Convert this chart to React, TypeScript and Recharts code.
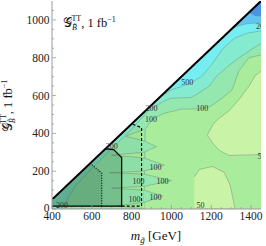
import React from 'react';
import { ComposedChart, Area, Line, Scatter, XAxis, YAxis, Customized } from 'recharts';

type Tri = [number, number, number];
type Pt = [number, number];

// ---- axes ----
const xTicks = [400, 450, 500, 550, 600, 650, 700, 750, 800, 850, 900, 950, 1000, 1050, 1100, 1150, 1200, 1250, 1300, 1350, 1400];
const xMajor = [400, 600, 800, 1000, 1200, 1400];
const yTicks = [0, 50, 100, 150, 200, 250, 300, 350, 400, 450, 500, 550, 600, 650, 700, 750, 800, 850, 900, 950, 1000, 1050];
const yMajor = [0, 200, 400, 600, 800, 1000];

// ---- contour regions: [m_gluino, lower, upper] ----
const regionBase: Tri[] = [[400, 0, 50], [1450, 0, 1100]];
const region100: Tri[] = [
  [400, 0, 50], [862, 0, 512], [868, 420, 518], [900, 471, 550], [960, 505, 610], [1050, 528, 700],
  [1150, 530, 800], [1200, 545, 850], [1260, 590, 910], [1305, 630, 955], [1340, 733, 990],
  [1390, 800, 1040], [1450, 815, 1100],
];
const wedges50: Tri[][] = [
  [[770, 385, 385], [862, 360, 420]],
  [[700, 285, 285], [862, 270, 300]],
  [[690, 192, 192], [862, 185, 200]],
  [[700, 110, 110], [862, 100, 120]],
  [[730, 18, 18], [862, 0, 35]],
];
const fingers100: Tri[][] = [
  [[862, 300, 360], [925, 330, 330]],
  [[862, 200, 270], [965, 232, 232]],
  [[862, 120, 185], [1000, 150, 150]],
  [[862, 35, 100], [955, 68, 68]],
];
const region200: Tri[] = [
  [400, 0, 50], [460, 0, 110], [480, 60, 130], [520, 125, 170], [600, 215, 250], [700, 318, 350],
  [800, 422, 450], [880, 515, 530], [900, 532, 550], [965, 572, 615], [1000, 586, 650],
  [1100, 590, 750], [1140, 615, 790], [1190, 650, 840], [1225, 700, 875], [1290, 760, 940],
  [1340, 800, 990], [1425, 860, 1075], [1450, 874, 1100],
];
const region500: Tri[] = [
  [940, 590, 590], [1000, 630, 650], [1090, 662, 740], [1150, 700, 800], [1200, 760, 850],
  [1260, 850, 910], [1320, 905, 970], [1380, 930, 1030], [1450, 942, 1100],
];
const region1000: Tri[] = [[1305, 955, 955], [1340, 970, 990], [1380, 980, 1030], [1450, 985, 1100]];
const region2000: Tri[] = [[1390, 1040, 1040], [1420, 1022, 1070], [1450, 1020, 1100]];
const lowBottom: Tri[] = [[1115, 0, 170], [1140, 0, 209], [1205, 0, 225], [1265, 0, 194], [1295, 0, 126], [1320, 0, 0]];
const lowRight: Tri[] = [
  [1180, 390, 390], [1210, 345, 450], [1240, 310, 480], [1290, 283, 520], [1340, 285, 580],
  [1390, 286, 650], [1420, 287, 705], [1450, 288, 730],
];

// ---- excluded regions ----
const overlayDashed: Tri[] = [[400, 15, 50], [800, 15, 450], [850, 15, 430]];
const overlaySolid: Tri[] = [[400, 15, 50], [668, 15, 318], [710, 15, 314], [750, 15, 272]];
const overlayDotted: Tri[] = [[400, 15, 50], [592, 15, 242], [650, 15, 190]];
const outlineSolid: Pt[] = [[400, 15], [750, 15], [750, 272], [710, 314], [668, 318]];
const outlineDashed: Pt[] = [[750, 15], [850, 15], [850, 430], [800, 450]];
const outlineDotted: Pt[] = [[650, 15], [650, 190], [592, 242]];
const diagonal: Pt[] = [[400, 50], [1450, 1100]];

// ---- contour labels ----
const contourLabels = [
  { x: 1080, y: 670, t: '500' },
  { x: 900, y: 534, t: '200' },
  { x: 897, y: 471, t: '100' },
  { x: 1155, y: 530, t: '100' },
  { x: 700, y: 328, t: '200' },
  { x: 450, y: 21, t: '200' },
  { x: 920, y: 222, t: '100' },
  { x: 955, y: 143, t: '100' },
  { x: 835, y: 143, t: '100' },
  { x: 920, y: 63, t: '100' },
  { x: 815, y: 48, t: '100' },
  { x: 1146, y: 21, t: '50' },
];
const edgeLabels = [
  { x: 1425, y: 963, t: '2000' },
  { x: 1432, y: 280, t: '50' },
];

const C_LOW = '#c9f3a6';
const C50 = '#a9ec9c';
const C100 = '#94e7ae';
const C200 = '#84ebd0';
const C500 = '#74eef0';
const C1000 = '#62c4f5';
const C2000 = '#4a94e8';
const GRAY = '#9a9a9a';
const CONTOUR = '#6f8f78';
const FONT = '"Liberation Serif", "Times New Roman", serif';

const toRange = (pts: Tri[]) => pts.map(([x, lo, hi]) => ({ x, r: [lo, hi] }));
const toLine = (pts: Pt[]) => pts.map(([x, y]) => ({ x, y }));

function BottomTick(p: any) {
  const { x, y, payload } = p;
  const v = payload.value;
  const major = xMajor.includes(v);
  return (
    <g>
      <line x1={x} x2={x} y1={y} y2={y - (major ? 4 : 2)} stroke={GRAY} strokeWidth={0.8} />
      {major && (
        <text x={x} y={y + 10.5} textAnchor="middle" fontFamily={FONT} fontSize={11.5} fill="#222">{v}</text>
      )}
    </g>
  );
}
function TopTick(p: any) {
  const { x, y, payload } = p;
  const major = xMajor.includes(payload.value);
  return <line x1={x} x2={x} y1={y} y2={y + (major ? 4 : 2)} stroke={GRAY} strokeWidth={0.8} />;
}
function LeftTick(p: any) {
  const { x, y, payload } = p;
  const v = payload.value;
  const major = yMajor.includes(v);
  return (
    <g>
      <line x1={x} x2={x + (major ? 4 : 2)} y1={y} y2={y} stroke={GRAY} strokeWidth={0.8} />
      {major && (
        <text x={x - 2.5} y={y + (v === 0 ? 2.5 : 4)} textAnchor="end" fontFamily={FONT} fontSize={11.5} fill="#222">{v}</text>
      )}
    </g>
  );
}
function RightTick(p: any) {
  const { x, y, payload } = p;
  const major = yMajor.includes(payload.value);
  return <line x1={x} x2={x - (major ? 4 : 2)} y1={y} y2={y} stroke={GRAY} strokeWidth={0.8} />;
}

const LabelShape = (p: any) => (
  <text x={p.cx} y={p.cy} textAnchor="middle" dominantBaseline="central" fontSize={8} fontFamily={FONT} fill="#333">
    {p.payload.t}
  </text>
);
const EdgeLabelShape = (p: any) => (
  <text x={p.cx} y={p.cy} textAnchor="start" dominantBaseline="central" fontSize={8} fontFamily={FONT} fill="#333">
    {p.payload.t}
  </text>
);

const GLabel = () => (
  <>
    <tspan>𝒢</tspan>
    <tspan fontSize={8} dy={3} fontStyle="italic">B̃</tspan>
    <tspan fontSize={8} dx={-5.5} dy={-9}>TT</tspan>
    <tspan dy={6}>, 1 fb</tspan>
    <tspan fontSize={8} dy={-5}>−1</tspan>
  </>
);

const Titles = () => (
  <g fontFamily={FONT} fill="#111">
    <text x={63} y={27} fontSize={12.5}>
      <GLabel />
    </text>
    <g transform="translate(11.5,106) rotate(-90)">
      <text x={0} y={0} fontSize={12.5} textAnchor="middle">
        <GLabel />
      </text>
    </g>
    <text x={156} y={240} fontSize={13} textAnchor="middle">
      <tspan fontStyle="italic">m</tspan>
      <tspan fontSize={9} fontStyle="italic" dy={3}>g̃</tspan>
      <tspan dy={-3}> [GeV]</tspan>
    </text>
  </g>
);

export default function App() {
  const band = (pts: Tri[], fill: string, key: string, stroke = CONTOUR, opacity = 1) => (
    <Area
      key={key}
      data={toRange(pts)}
      dataKey="r"
      type="linear"
      fill={fill}
      fillOpacity={opacity}
      stroke={stroke}
      strokeWidth={0.6}
      strokeOpacity={0.8}
      isAnimationActive={false}
      dot={false}
      activeDot={false}
    />
  );
  const poly = (pts: Pt[], key: string, width: number, dash?: string) => (
    <Line
      key={key}
      data={toLine(pts)}
      dataKey="y"
      type="linear"
      stroke="#000"
      strokeWidth={width}
      strokeDasharray={dash}
      dot={false}
      activeDot={false}
      isAnimationActive={false}
    />
  );
  return (
    <div style={{ position: 'absolute', left: 0, top: 0, width: 266, height: 246, overflow: 'hidden', background: '#fff' }}>
      <ComposedChart width={266} height={246} margin={{ top: 1, right: 5, bottom: 0, left: 0 }}>
        <XAxis
          dataKey="x"
          type="number"
          domain={[400, 1450]}
          allowDataOverflow
          ticks={xTicks}
          interval={0}
          height={37}
          tickSize={0}
          tickMargin={0}
          tick={BottomTick}
          axisLine={{ stroke: GRAY }}
        />
        <XAxis
          xAxisId="top"
          orientation="top"
          dataKey="x"
          type="number"
          domain={[400, 1450]}
          allowDataOverflow
          ticks={xTicks}
          interval={0}
          height={0}
          tickSize={0}
          tickMargin={0}
          tick={TopTick}
          axisLine={{ stroke: GRAY }}
        />
        <YAxis
          type="number"
          domain={[0, 1100]}
          allowDataOverflow
          ticks={yTicks}
          interval={0}
          width={52}
          tickSize={0}
          tickMargin={0}
          tick={LeftTick}
          axisLine={{ stroke: GRAY }}
        />
        <YAxis
          yAxisId="right"
          orientation="right"
          type="number"
          domain={[0, 1100]}
          allowDataOverflow
          ticks={yTicks}
          interval={0}
          width={0}
          tickSize={0}
          tickMargin={0}
          tick={RightTick}
          axisLine={{ stroke: GRAY }}
        />
        {band(regionBase, C50, 'base', 'none')}
        {band(region100, C100, 'r100')}
        {wedges50.map((w, i) => band(w, C50, 'w' + i))}
        {fingers100.map((f, i) => band(f, C100, 'f' + i))}
        {band(region200, C200, 'r200')}
        {band(region500, C500, 'r500')}
        {band(region1000, C1000, 'r1000')}
        {band(region2000, C2000, 'r2000')}
        {band(lowBottom, C_LOW, 'lowB')}
        {band(lowRight, C_LOW, 'lowR')}
        {band(overlayDashed, '#1f4f2f', 'oDash', 'none', 0.05)}
        {band(overlaySolid, '#1f4f2f', 'oSolid', 'none', 0.22)}
        {band(overlayDotted, '#1f4f2f', 'oDot', 'none', 0.16)}
        {poly(outlineSolid, 'lSolid', 1.2)}
        {poly(outlineDashed, 'lDash', 1.1, '3 2')}
        {poly(outlineDotted, 'lDot', 1.1, '1 1.5')}
        {poly(diagonal, 'diag', 2)}
        <Scatter data={contourLabels} dataKey="y" shape={LabelShape} isAnimationActive={false} />
        <Scatter data={edgeLabels} dataKey="y" shape={EdgeLabelShape} isAnimationActive={false} />
        <Customized component={Titles} />
      </ComposedChart>
    </div>
  );
}
